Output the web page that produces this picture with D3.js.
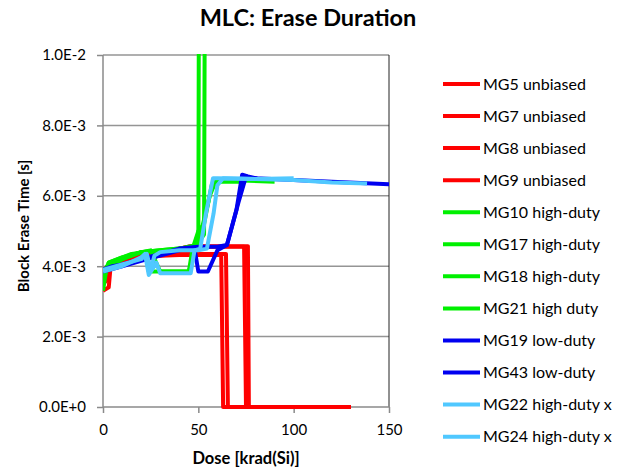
<!doctype html>
<meta charset="utf-8">
<title>MLC: Erase Duration</title>
<script src="https://cdn.jsdelivr.net/npm/d3@7"></script>
<style>
  body { margin: 0; background: #fff; }
  text { font-family: Lato, "Open Sans", sans-serif; }
</style>
<body>
<div id="chart"></div>
<script>
    // series names and colours (legend order)
    var names = ["MG5 unbiased", "MG7 unbiased", "MG8 unbiased", "MG9 unbiased",
                 "MG10 high-duty", "MG17 high-duty", "MG18 high-duty", "MG21 high duty",
                 "MG19 low-duty", "MG43 low-duty", "MG22 high-duty x", "MG24 high-duty x"];
    var colors = ["#ff0000", "#ff0000", "#ff0000", "#ff0000",
                  "#00f000", "#00f000", "#00f000", "#00f000",
                  "#0000f0", "#0000f0", "#50c8ff", "#50c8ff"];

    // dose [krad(Si)] and erase time [ms]
    var doses = [
        [0, 3, 4, 10, 20, 30, 40, 62, 63, 130],
        [0, 2, 3, 12, 20, 28, 40, 64.5, 65.5, 130],
        [0, 3, 10, 20, 30, 40, 45, 74, 75, 130],
        [0, 4, 10, 20, 30, 40, 46, 76, 76.5, 130],
        [0, 2, 10, 20, 30, 40, 48, 50, 50.3],
        [0, 3, 10, 20, 30, 40, 49, 53, 53.4],
        [0, 3, 15, 22, 24, 45, 47, 50, 53, 57, 60, 75],
        [0, 10, 20, 25, 30, 45, 48, 52, 56, 59, 65, 90],
        [0, 5, 10, 20, 30, 40, 50, 60, 65, 67, 70, 73, 76, 80, 100, 120, 150, 160],
        [0, 10, 20, 30, 40, 48, 50, 55, 60, 65, 67, 71, 75, 78, 81],
        [0, 10, 20, 22, 24, 28, 30, 46, 48, 51, 54, 57.7, 60, 80, 100, 120, 138.5],
        [0, 10, 20, 23, 25, 27, 30, 40, 50, 54.5, 58, 60, 63, 80, 100]
    ];
    var times = [
        [3.3, 3.4, 4.0, 4.05, 4.2, 4.3, 4.32, 4.32, 0, 0],
        [3.5, 3.6, 4.0, 4.1, 4.2, 4.3, 4.35, 4.35, 0, 0],
        [3.9, 4.0, 4.1, 4.25, 4.4, 4.5, 4.55, 4.55, 0, 0],
        [3.8, 4.0, 4.1, 4.3, 4.4, 4.5, 4.57, 4.57, 0, 0],
        [3.3, 4.0, 4.2, 4.4, 4.45, 4.5, 4.5, 4.6, 12],
        [3.6, 4.1, 4.25, 4.4, 4.45, 4.5, 4.6, 4.9, 12],
        [3.6, 4.1, 4.35, 4.4, 3.85, 3.85, 4.5, 5.0, 5.2, 6.3, 6.4, 6.4],
        [3.9, 4.2, 4.4, 4.45, 3.85, 3.85, 4.4, 5.1, 6.0, 6.4, 6.45, 6.4],
        [3.9, 4.0, 4.05, 4.2, 4.35, 4.5, 4.55, 4.55, 4.6, 5.0, 5.6, 6.6, 6.55, 6.5, 6.45, 6.4, 6.33, 6.3],
        [3.85, 4.0, 4.15, 4.3, 4.45, 4.5, 3.85, 3.85, 4.45, 4.6, 5.0, 5.8, 6.55, 6.5, 6.5],
        [3.85, 4.0, 4.25, 4.35, 3.75, 4.1, 3.8, 3.8, 4.45, 4.5, 5.5, 6.5, 6.5, 6.48, 6.45, 6.38, 6.35],
        [3.9, 4.05, 4.2, 4.35, 3.9, 4.3, 4.4, 4.45, 4.45, 4.5, 5.5, 6.3, 6.5, 6.48, 6.5]
    ];

    var xTicks = [0, 50, 100, 150];
    var yTicks = [0, 0.002, 0.004, 0.006, 0.008, 0.01];

    var W = 625, H = 470;
    var plot = { left: 103, right: 389, top: 55, bottom: 407 };

    var svg = d3.select('#chart').append('svg')
            .attr('width', W)
            .attr('height', H);

    var x = d3.scaleLinear().domain([0, 150]).range([plot.left, plot.right]);
    var y = d3.scaleLinear().domain([0, 0.01]).range([plot.bottom, plot.top]);

    // gridlines
    svg.append('g').selectAll('line.grid')
            .data(yTicks.slice(1))
            .enter().append('line')
            .attr('x1', plot.left).attr('x2', plot.right)
            .attr('y1', function(d) { return y(d) }).attr('y2', function(d) { return y(d) })
            .style('stroke', '#959595').style('stroke-width', 1.5);

    // right border of the plot area
    svg.append('line')
            .attr('x1', plot.right).attr('x2', plot.right)
            .attr('y1', plot.top).attr('y2', plot.bottom)
            .style('stroke', '#222').style('stroke-width', 1);

    // axes
    var yAxis = d3.axisLeft(y).tickValues(yTicks).tickSize(6).tickPadding(11)
            .tickFormat(function(d) { return d.toExponential(1).toUpperCase() });
    var xAxis = d3.axisBottom(x).tickValues(xTicks).tickSize(6).tickPadding(11);

    var gy = svg.append('g').attr('transform', 'translate(' + plot.left + ',0)').call(yAxis);
    var gx = svg.append('g').attr('transform', 'translate(0,' + plot.bottom + ')').call(xAxis);
    [gx, gy].forEach(function(g) {
        g.select('.domain').remove();
        g.selectAll('.tick line').style('stroke', '#8a8a8a').style('stroke-width', 1.5);
        g.selectAll('.tick text').style('font-size', '15px').style('fill', '#000');
    });
    svg.append('line')
            .attr('x1', plot.left).attr('x2', plot.left)
            .attr('y1', plot.top).attr('y2', plot.bottom)
            .style('stroke', '#8a8a8a').style('stroke-width', 1.5);
    svg.append('line')
            .attr('x1', plot.left).attr('x2', plot.right)
            .attr('y1', plot.bottom).attr('y2', plot.bottom)
            .style('stroke', '#8a8a8a').style('stroke-width', 1.5);

    // clip for lines
    svg.append('clipPath').attr('id', 'clip')
            .append('rect')
            .attr('x', plot.left).attr('y', plot.top - 1)
            .attr('width', plot.right - plot.left).attr('height', plot.bottom - plot.top + 3);

    var line = d3.line()
            .x(function(d) { return x(d[0]) })
            .y(function(d) { return y(d[1] / 1000) });

    var series = names.map(function(n, i) {
        return { name: n, color: colors[i], pts: d3.zip(doses[i], times[i]) };
    });

    svg.append('g').attr('clip-path', 'url(#clip)')
            .selectAll('path.series')
            .data(series)
            .enter().append('path')
            .attr('d', function(d) { return line(d.pts) })
            .style('fill', 'none')
            .style('stroke', function(d) { return d.color })
            .style('stroke-width', 4)
            .style('stroke-linejoin', 'round');

    // legend
    var leg = svg.append('g').selectAll('g.leg')
            .data(series)
            .enter().append('g')
            .attr('transform', function(d, i) { return 'translate(443,' + (84 + i * 32.06) + ')' });
    leg.append('line')
            .attr('x1', 0).attr('x2', 37)
            .style('stroke', function(d) { return d.color })
            .style('stroke-width', 4);
    leg.append('text')
            .attr('x', 40).attr('dy', '0.35em')
            .style('font-size', '16px')
            .text(function(d) { return d.name });

    // titles
    svg.append('text')
            .attr('x', 308).attr('y', 26)
            .attr('text-anchor', 'middle')
            .style('font-size', '23.5px').style('font-weight', 'bold')
            .text('MLC: Erase Duration');
    svg.append('text')
            .attr('x', 246).attr('y', 464)
            .attr('text-anchor', 'middle')
            .style('font-size', '16.5px').style('font-weight', 'bold')
            .text('Dose [krad(Si)]');
    svg.append('text')
            .attr('transform', 'translate(29,226) rotate(-90)')
            .attr('text-anchor', 'middle')
            .style('font-size', '15px').style('font-weight', 'bold')
            .text('Block Erase Time [s]');
</script>
</body>
